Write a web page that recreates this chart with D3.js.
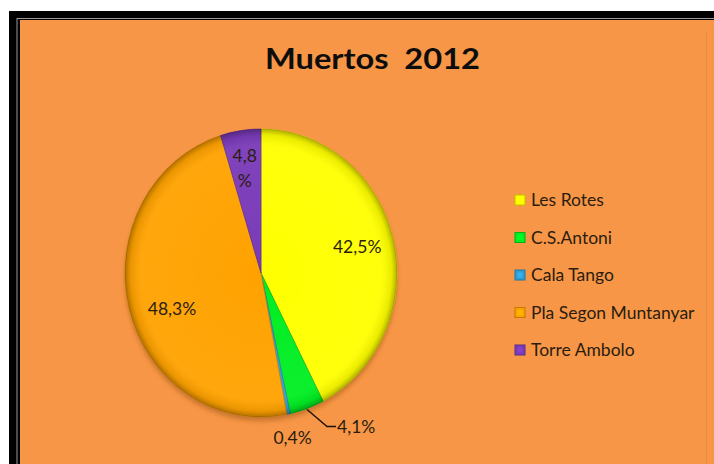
<!DOCTYPE html>
<html>
<head>
<meta charset="utf-8">
<script src="https://cdn.jsdelivr.net/npm/d3@7"></script>
<style>
  html, body { margin: 0; padding: 0; background: #ffffff; }
  svg { display: block; }
</style>
</head>
<body>
<svg id="chart" width="714" height="464"></svg>
<script>
// Death counts share by beach, 2012
const categories = ["Les Rotes", "C.S.Antoni", "Cala Tango", "Pla Segon Muntanyar", "Torre Ambolo"];
const values = [42.5, 4.1, 0.4, 48.3, 4.8];
const labels = ["42,5%", "4,1%", "0,4%", "48,3%", "4,8\n%"];
const colors = ["#FFFF00", "#00EE22", "#2E9FD6", "#FFA200", "#7A3AB8"];
const title = "Muertos  2012";

const svg = d3.select("#chart");
const W = 714, H = 464;
const font = "Lato, 'Open Sans', sans-serif";

// frame
svg.append("rect").attr("x", 9).attr("y", 11).attr("width", W).attr("height", H).attr("fill", "#000");
svg.append("rect").attr("x", 16.5).attr("y", 18).attr("width", W).attr("height", H).attr("fill", "#9a9a9a");
svg.append("rect").attr("x", 17.5).attr("y", 19).attr("width", W).attr("height", H).attr("fill", "#000");
svg.append("rect").attr("x", 20).attr("y", 20).attr("width", W).attr("height", H).attr("fill", "#F79646");
svg.append("line").attr("x1", 706.5).attr("x2", 706.5).attr("y1", 32).attr("y2", H)
  .attr("stroke", "#EE8A3C").attr("stroke-width", 1);

// title
svg.append("text").attr("x", 372.5).attr("y", 69).attr("text-anchor", "middle")
  .attr("font-family", font).attr("font-weight", 700).attr("font-size", 29)
  .attr("textLength", 215).attr("lengthAdjust", "spacingAndGlyphs")
  .attr("fill", "#0d0d0d").attr("xml:space", "preserve").text(title);

const defs = svg.append("defs");
// bevel shading over each slice
const shade = defs.append("radialGradient").attr("id", "shade")
  .attr("gradientUnits", "userSpaceOnUse").attr("cx", 0).attr("cy", 0).attr("r", 144);
shade.append("stop").attr("offset", "0%").attr("stop-color", "#fff").attr("stop-opacity", 0.0);
shade.append("stop").attr("offset", "88%").attr("stop-color", "#fff").attr("stop-opacity", 0.05);
shade.append("stop").attr("offset", "96%").attr("stop-color", "#000").attr("stop-opacity", 0.08);
shade.append("stop").attr("offset", "100%").attr("stop-color", "#000").attr("stop-opacity", 0.3);

const blur = defs.append("filter").attr("id", "shadow").attr("x", "-20%").attr("y", "-20%")
  .attr("width", "140%").attr("height", "140%");
blur.append("feGaussianBlur").attr("stdDeviation", 2.5);

const R = 144;
const cx = 261, cy = 273, sx = 136 / 144;

const pie = d3.pie().sort(null).value(d => d);
const arcs = pie(values);
const arc = d3.arc().innerRadius(0).outerRadius(R);

const g = svg.append("g").attr("transform", `translate(${cx},${cy}) scale(${sx},1)`);

// soft shadow under the pie
g.append("circle").attr("cx", 0).attr("cy", 4).attr("r", R)
  .attr("fill", "#8a4a10").attr("opacity", 0.45).attr("filter", "url(#shadow)");

g.selectAll("path.slice").data(arcs).join("path")
  .attr("class", "slice")
  .attr("d", arc)
  .attr("fill", (d, i) => colors[i])
  .attr("stroke", (d, i) => d3.color(colors[i]).darker(0.6))
  .attr("stroke-width", 0.8);

g.selectAll("path.shade").data(arcs).join("path")
  .attr("class", "shade")
  .attr("d", arc)
  .attr("fill", "url(#shade)");

// helpers mapping an arc centroid at a given radius into page coordinates
const at = (i, r) => {
  const [x, y] = d3.arc().innerRadius(r).outerRadius(r).centroid(arcs[i]);
  return [cx + x * sx, cy + y];
};

const labelLayer = svg.append("g").attr("font-family", font).attr("font-size", 17.5).attr("fill", "#2a1d10");

function addLabel(text, x, y) {
  const lines = text.split("\n");
  const t = labelLayer.append("text").attr("x", x).attr("y", y).attr("text-anchor", "middle");
  lines.forEach((ln, k) => {
    t.append("tspan").attr("x", x).attr("dy", k === 0 ? (-(lines.length - 1) * 12.5 + 6) : 25).text(ln);
  });
}

// large slices: labels inside
const p0 = at(0, R * 0.72);
addLabel(labels[0], p0[0] + 1, p0[1] - 2);
const p3 = at(3, R * 0.72);
addLabel(labels[3], p3[0] + 6, p3[1] + 11);
const p4 = at(4, R * 0.8);
addLabel(labels[4], p4[0], p4[1] + 9);

// C.S.Antoni label with leader line
const r1 = at(1, R);
const lead = [[r1[0], r1[1] + 1], [r1[0] + 20, r1[1] + 18], [r1[0] + 29, r1[1] + 18]];
svg.append("path").attr("d", d3.line()(lead)).attr("fill", "none")
  .attr("stroke", "#1a1208").attr("stroke-width", 1.4);
labelLayer.append("text").attr("x", lead[2][0] + 1).attr("y", lead[2][1] + 6).text(labels[1]);

// Cala Tango label below the rim
const r2 = at(2, R);
addLabel(labels[2], r2[0] + 4, r2[1] + 24);

// legend
const legend = svg.append("g").attr("font-family", font).attr("font-size", 17.5).attr("fill", "#2a1d10");
const ly = d3.scalePoint().domain(categories).range([200, 350]);
categories.forEach((c, i) => {
  const y = ly(c);
  const base = d3.color(colors[i]);
  legend.append("rect").attr("x", 515).attr("y", y - 5).attr("width", 10).attr("height", 10)
    .attr("fill", base).attr("stroke", base.darker(0.8)).attr("stroke-width", 1);
  legend.append("rect").attr("x", 517.5).attr("y", y - 2.5).attr("width", 5).attr("height", 5)
    .attr("fill", base.brighter(0.3));
  legend.append("text").attr("x", 531).attr("y", y + 6).text(c);
});
</script>
</body>
</html>
